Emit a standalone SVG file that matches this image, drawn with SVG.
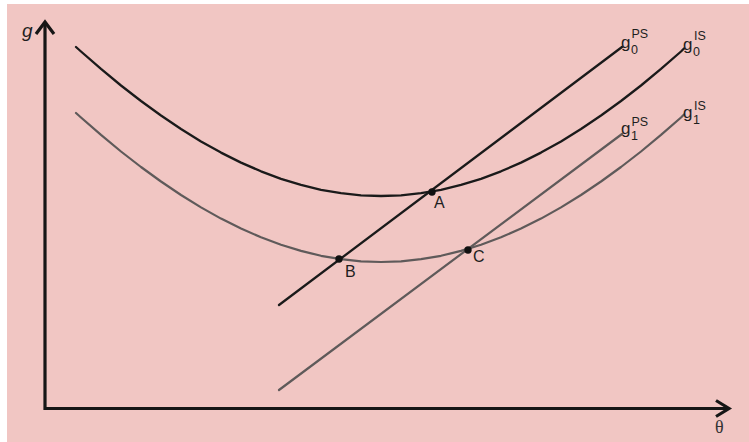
<svg xmlns="http://www.w3.org/2000/svg" width="749" height="442" viewBox="0 0 749 442">
<style>
.lbl{font-family:"Liberation Sans",Arial,sans-serif;fill:#1e1e1e}
.main{font-size:17px}
.pt{font-size:16px}
.sub{font-size:12.5px}
.axis{fill:none;stroke:#161616;stroke-width:3.2;stroke-linecap:butt;stroke-linejoin:miter}
.blk{fill:none;stroke:#1a1a1a;stroke-width:2.3;stroke-linejoin:round;stroke-linecap:round}
.gry{fill:none;stroke:#5f5a5a;stroke-width:2.2;stroke-linejoin:round;stroke-linecap:round}
.dot{fill:#111}
</style>
<rect x="0" y="0" width="749" height="442" fill="#ffffff"/>
<rect x="7" y="4" width="742" height="438" fill="#f1c6c3"/>
<g id="axes">
<polyline class="axis" points="45,24 45,408.5 727,408.5"/>
<polyline class="axis" points="36,34 45,22 54,34"/>
<polyline class="axis" points="716,400.5 729,408.5 716,416.5"/>
<text class="lbl" x="22" y="37" font-size="19" font-style="italic">g</text>
<text x="715" y="433" font-family="'Liberation Serif','Times New Roman',serif" font-size="18" fill="#333">θ</text>
</g>
<g id="connectors">
<path id="g0IS" class="blk" d="M76,47 L81,51.5 L101,68.9 L121,85.5 L141,101 L161,115.5 L181,129 L201,141.4 L221,152.6 L241,162.6 L261,171.3 L281,178.8 L301,184.9 L321,189.8 L341,193.2 L361,195.3 L381,196 L401,195.3 L421,193.2 L441,189.8 L461,184.9 L481,178.8 L501,171.3 L521,162.6 L541,152.6 L561,141.4 L581,129 L601,115.5 L621,101 L641,85.5 L661,68.9 L681,51.5 L684,48.5"/>
<path id="g1IS" class="gry" d="M76,113 L81,117.5 L101,134.9 L121,151.5 L141,167 L161,181.5 L181,195 L201,207.4 L221,218.6 L241,228.6 L261,237.3 L281,244.8 L301,250.9 L321,255.8 L341,259.2 L361,261.3 L381,262 L401,261.3 L421,259.2 L441,255.8 L461,250.9 L481,244.8 L501,237.3 L521,228.6 L541,218.6 L561,207.4 L581,195 L601,181.5 L621,167 L641,151.5 L661,134.9 L681,117.5 L684,114.5"/>
<line id="g0PS" class="blk" x1="279" y1="305" x2="622" y2="47"/>
<line id="g1PS" class="gry" x1="279" y1="390" x2="622" y2="134"/>
</g>
<g id="A"><circle class="dot" cx="432" cy="192" r="3.7"/><text class="lbl pt" x="434" y="208">A</text></g>
<g id="B"><circle class="dot" cx="339" cy="259" r="3.7"/><text class="lbl pt" x="345" y="277">B</text></g>
<g id="C"><circle class="dot" cx="468" cy="250" r="3.7"/><text class="lbl pt" x="473" y="262">C</text></g>
<g id="label-g0PS"><text class="lbl main" x="621" y="48">g</text><text class="lbl sub" x="631" y="54">0</text><text class="lbl sub" x="631.5" y="38">PS</text></g>
<g id="label-g0IS"><text class="lbl main" x="683" y="50">g</text><text class="lbl sub" x="693" y="56">0</text><text class="lbl sub" x="694" y="40">IS</text></g>
<g id="label-g1PS"><text class="lbl main" x="621" y="134">g</text><text class="lbl sub" x="631" y="140">1</text><text class="lbl sub" x="631.5" y="126">PS</text></g>
<g id="label-g1IS"><text class="lbl main" x="683" y="118">g</text><text class="lbl sub" x="693" y="124">1</text><text class="lbl sub" x="694" y="110">IS</text></g>
</svg>
